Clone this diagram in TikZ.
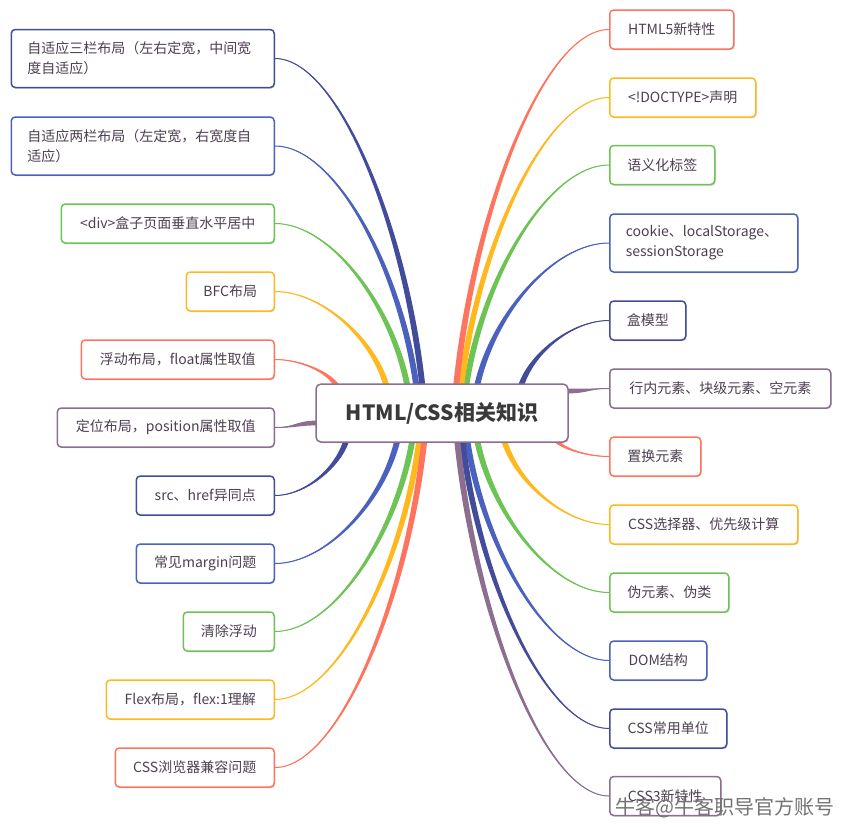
\documentclass[tikz,border=0pt]{standalone}
\usepackage{fontspec}
\setmainfont{Noto Sans CJK SC}
\usetikzlibrary{calc,shadows}
\definecolor{cred}{HTML}{FF745E}
\definecolor{corange}{HTML}{FFB81E}
\definecolor{cgreen}{HTML}{6DC353}
\definecolor{cblue}{HTML}{4A62BE}
\definecolor{cnavy}{HTML}{434C9A}
\definecolor{cpurple}{HTML}{8C6E8F}
\definecolor{ctext}{HTML}{4E3F52}
\definecolor{cmain}{HTML}{3A3A3A}
\pgfdeclarelayer{bg}\pgfsetlayers{bg,main}

% tapered branch, thin at the leaf, thick where it meets the central box
\newcommand\vbranch[3]{%
 \fill[#1] let \p1=#2, \p2=#3, \n1={sign(\x2-\x1)*sign(\y1-\y2)} in
   (\p1) .. controls ({\x1+0.42*(\x2-\x1)},{\y1-\n1*1pt}) and ({\x2-0.12*(\x2-\x1)-3pt},{0.5*(\y1+\y2)}) .. ({\x2-3pt},\y2)
   -- ({\x2+3pt},\y2) .. controls ({\x2-0.12*(\x2-\x1)+3pt},{0.5*(\y1+\y2)}) and ({\x1+0.42*(\x2-\x1)},{\y1+\n1*1pt}) .. (\p1) -- cycle;
 \draw[#1,line width=1pt] let \p1=#2, \p2=#3 in
   (\p1) .. controls ({\x1+0.42*(\x2-\x1)},\y1) and ({\x2-0.12*(\x2-\x1)},{0.5*(\y1+\y2)}) .. (\p2);
}
\newcommand\hbranch[3]{%
 \fill[#1] let \p1=#2, \p2=#3 in
   (\p1) .. controls ({0.5*(\x1+\x2)},{\y1-0.8pt}) and ({0.5*(\x1+\x2)},{\y2-2.4pt}) .. (\x2,{\y2-2.4pt})
   -- (\x2,{\y2+2.4pt}) .. controls ({0.5*(\x1+\x2)},{\y2+2.4pt}) and ({0.5*(\x1+\x2)},{\y1+0.8pt}) .. (\p1) -- cycle;
 \draw[#1,line width=1pt] let \p1=#2, \p2=#3 in
   (\p1) .. controls ({0.5*(\x1+\x2)},\y1) and ({0.5*(\x1+\x2)},\y2) .. (\p2);
}

\tikzset{
  leaf/.style={draw=#1, line width=1.5pt, rounded corners=4pt, fill=white, text=ctext,
    font=\fontsize{14}{20}\selectfont, minimum height=39pt, inner xsep=0pt, inner ysep=0pt,
    drop shadow={shadow xshift=0.8pt, shadow yshift=-1.2pt, opacity=0.18, fill=black}},
  leaftwo/.style={leaf=#1, align=left, inner xsep=16pt, minimum height=58pt},
  hub/.style={draw=cpurple, line width=1.5pt, rounded corners=5pt, fill=white, text=cmain,
    font=\fontsize{21}{24}\selectfont\bfseries, minimum width=252pt, minimum height=58pt,
    drop shadow={shadow xshift=0.8pt, shadow yshift=-1.2pt, opacity=0.18, fill=black}},
  wmark/.style={text=black!55, font=\fontsize{20}{20}\selectfont}
}

\begin{document}
\begin{tikzpicture}[x=1pt,y=-1pt]
\useasboundingbox (0,0) rectangle (844,827);

\node[hub] (C) at (442,413) {HTML/CSS相关知识};

% left nodes
\node[leaftwo=cnavy, text width=231pt, anchor=east] (L1) at (275,58.5) {自适应三栏布局（左右定宽，中间宽\\度自适应）};
\node[leaftwo=cblue, text width=231pt, anchor=east] (L2) at (275,146) {自适应两栏布局（左定宽，右宽度自\\适应）};
\node[leaf=cgreen, minimum width=213pt, anchor=east] (L3) at (275,223.5) {<div>盒子页面垂直水平居中};
\node[leaf=corange, minimum width=88pt, anchor=east] (L4) at (275,291.5) {BFC布局};
\node[leaf=cred, minimum width=193pt, anchor=east] (L5) at (275,359.5) {浮动布局，float属性取值};
\node[leaf=cpurple, minimum width=217pt, anchor=east] (L6) at (275,427.5) {定位布局，position属性取值};
\node[leaf=cnavy, minimum width=138pt, anchor=east] (L7) at (275,495.5) {src、href异同点};
\node[leaf=cblue, minimum width=138pt, anchor=east] (L8) at (275,563.5) {常见margin问题};
\node[leaf=cgreen, minimum width=91pt, anchor=east] (L9) at (275,631.5) {清除浮动};
\node[leaf=corange, minimum width=168pt, anchor=east] (L10) at (275,699.5) {Flex布局，flex:1理解};
\node[leaf=cred, minimum width=159pt, anchor=east] (L11) at (275,767.5) {CSS浏览器兼容问题};

% right nodes
\node[leaf=cred, minimum width=124pt, anchor=west] (R1) at (609,29.5) {HTML5新特性};
\node[leaf=corange, minimum width=146pt, anchor=west] (R2) at (609,97.5) {<!DOCTYPE>声明};
\node[leaf=cgreen, minimum width=105pt, anchor=west] (R3) at (609,165) {语义化标签};
\node[leaftwo=cblue, text width=156pt, anchor=west] (R4) at (609,243) {cookie、localStorage、\\sessionStorage};
\node[leaf=cnavy, minimum width=76pt, anchor=west] (R5) at (609,320.5) {盒模型};
\node[leaf=cpurple, minimum width=221pt, anchor=west] (R6) at (609,388.5) {行内元素、块级元素、空元素};
\node[leaf=cred, minimum width=91pt, anchor=west] (R7) at (609,456.5) {置换元素};
\node[leaf=corange, minimum width=188pt, anchor=west] (R8) at (609,524.5) {CSS选择器、优先级计算};
\node[leaf=cgreen, minimum width=119pt, anchor=west] (R9) at (609,592.5) {伪元素、伪类};
\node[leaf=cblue, minimum width=97pt, anchor=west] (R10) at (609,660.5) {DOM结构};
\node[leaf=cnavy, minimum width=117pt, anchor=west] (R11) at (609,728.5) {CSS常用单位};
\node[leaf=cpurple, minimum width=111pt, anchor=west] (R12) at (609,796) {CSS3新特性};

\begin{pgfonlayer}{bg}
\fill[white] (0,0) rectangle (844,827);
% top edge, left side
\vbranch{cred}{(L5.east)}{($(C.north west)+(21,2)$)}
\vbranch{corange}{(L4.east)}{($(C.north west)+(71,2)$)}
\vbranch{cgreen}{(L3.east)}{($(C.north west)+(92,2)$)}
\vbranch{cblue}{(L2.east)}{($(C.north west)+(101,2)$)}
\vbranch{cnavy}{(L1.east)}{($(C.north west)+(107,2)$)}
% top edge, right side
\vbranch{cnavy}{(R5.west)}{($(C.north west)+(206,2)$)}
\vbranch{cblue}{(R4.west)}{($(C.north west)+(162,2)$)}
\vbranch{cgreen}{(R3.west)}{($(C.north west)+(151,2)$)}
\vbranch{corange}{(R2.west)}{($(C.north west)+(146,2)$)}
\vbranch{cred}{(R1.west)}{($(C.north west)+(141,2)$)}
% side edges
\hbranch{cpurple}{(L6.east)}{($(C.west)+(2,10)$)}
\hbranch{cpurple}{(R6.west)}{($(C.east)+(-2,-22)$)}
% bottom edge, left side
\vbranch{cnavy}{(L7.east)}{($(C.south west)+(31,-2)$)}
\vbranch{cblue}{(L8.east)}{($(C.south west)+(82,-2)$)}
\vbranch{cgreen}{(L9.east)}{($(C.south west)+(97,-2)$)}
\vbranch{corange}{(L10.east)}{($(C.south west)+(104,-2)$)}
\vbranch{cred}{(L11.east)}{($(C.south west)+(109,-2)$)}
% bottom edge, right side
\vbranch{cred}{(R7.west)}{($(C.south west)+(241,-2)$)}
\vbranch{corange}{(R8.west)}{($(C.south west)+(189,-2)$)}
\vbranch{cgreen}{(R9.west)}{($(C.south west)+(162,-2)$)}
\vbranch{cblue}{(R10.west)}{($(C.south west)+(152,-2)$)}
\vbranch{cnavy}{(R11.west)}{($(C.south west)+(147,-2)$)}
\vbranch{cpurple}{(R12.west)}{($(C.south west)+(142,-2)$)}
\end{pgfonlayer}

\node[wmark, anchor=west] (W) at (612,808) {牛客@牛客职导官方账号};
\end{tikzpicture}
\end{document}
